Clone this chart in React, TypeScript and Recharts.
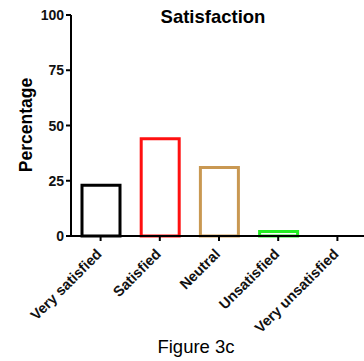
import { Bar, BarChart, Cell, XAxis, YAxis } from "recharts";

const categories = ["Very satisfied", "Satisfied", "Neutral", "Unsatisfied", "Very unsatisfied"];
const percentages = [23, 44, 31, 2, 0];
const barColors = ["#000000", "#ff1010", "#c99852", "#22ee22", "#000000"];
const yTicks = [0, 25, 50, 75, 100];

const data = categories.map((name, i) => ({ name, value: percentages[i] }));

const FONT = "'Liberation Sans', Arial, sans-serif";

function XTick({ x, y, payload }: any) {
  return (
    <g transform={`translate(${x + 2},${y + 12}) rotate(-45)`}>
      <text
        x={0}
        y={0}
        textAnchor="end"
        fontFamily={FONT}
        fontWeight="bold"
        fontSize={14.5}
        fill="#111"
      >
        {payload.value}
      </text>
    </g>
  );
}

function YTick({ x, y, payload }: any) {
  return (
    <text
      x={x}
      y={y}
      dy={5}
      textAnchor="end"
      fontFamily={FONT}
      fontWeight="bold"
      fontSize={14}
      fill="#111"
    >
      {payload.value}
    </text>
  );
}

export default function App() {
  return (
    <div style={{ position: "absolute", left: 0, top: 0, width: 364, height: 361, overflow: "hidden", background: "#fff" }}>
      <BarChart
        width={367}
        height={361}
        data={data}
        margin={{ top: 15, right: 0, bottom: 0, left: 0 }}
      >
        <XAxis
          dataKey="name"
          interval={0}
          height={125}
          axisLine={{ stroke: "#000", strokeWidth: 2 }}
          tickLine={{ stroke: "#000", strokeWidth: 2 }}
          tickSize={5}
          tick={<XTick />}
        />
        <YAxis
          domain={[0, 100]}
          ticks={yTicks}
          width={71}
          axisLine={{ stroke: "#000", strokeWidth: 2 }}
          tickLine={{ stroke: "#000", strokeWidth: 2 }}
          tickSize={5}
          tick={<YTick />}
        />
        <Bar dataKey="value" fill="none" barSize={38} strokeWidth={3} isAnimationActive={false}>
          {data.map((d, i) => (
            <Cell key={d.name} stroke={barColors[i]} fill="none" />
          ))}
        </Bar>
      </BarChart>
      <div
        style={{
          position: "absolute",
          left: 113,
          top: 6,
          width: 200,
          textAlign: "center",
          fontFamily: FONT,
          fontWeight: "bold",
          fontSize: 18.5,
          lineHeight: "22px",
        }}
      >
        Satisfaction
      </div>
      <div
        style={{
          position: "absolute",
          left: 26,
          top: 125,
          transform: "translate(-50%, -50%) rotate(-90deg)",
          fontFamily: FONT,
          fontWeight: "bold",
          fontSize: 17.5,
          whiteSpace: "nowrap",
        }}
      >
        Percentage
      </div>
      <div
        style={{
          position: "absolute",
          left: 96,
          top: 336,
          width: 200,
          textAlign: "center",
          fontFamily: FONT,
          fontSize: 18.5,
          lineHeight: "22px",
        }}
      >
        Figure 3c
      </div>
    </div>
  );
}
